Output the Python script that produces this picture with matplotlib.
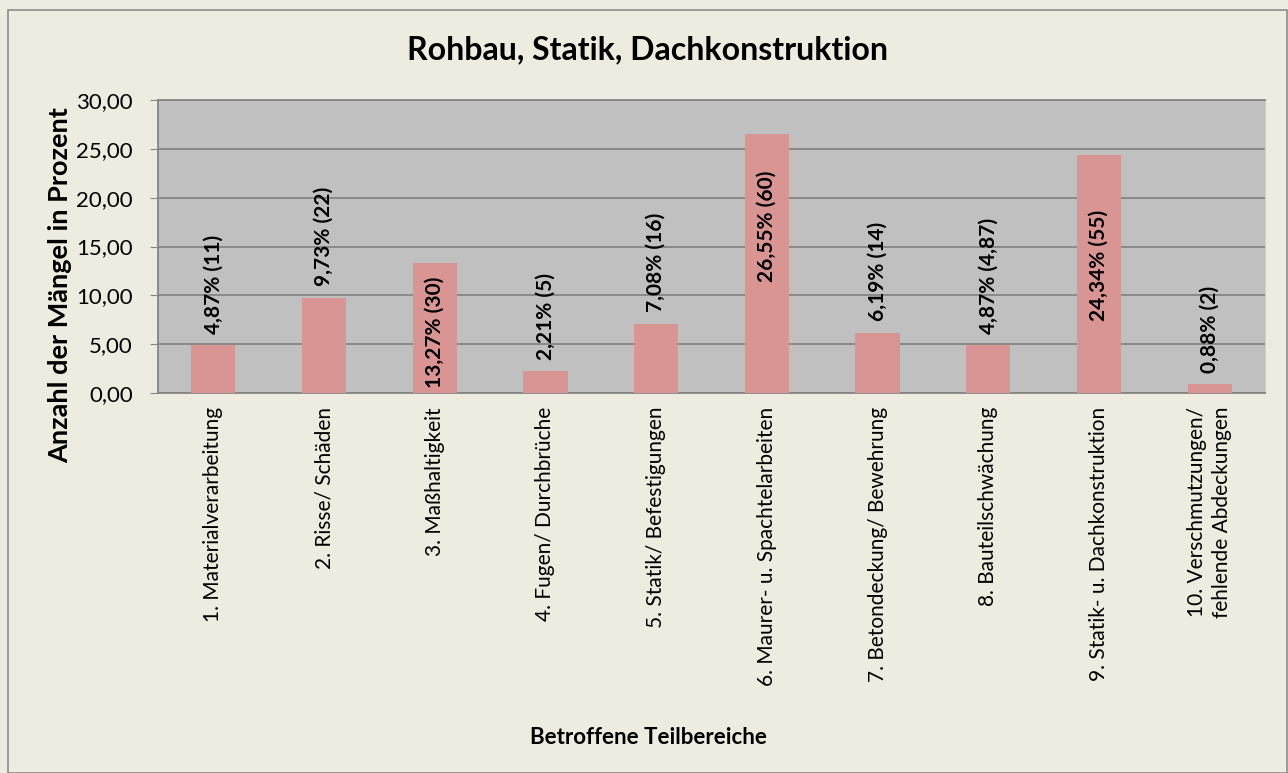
import matplotlib
matplotlib.use("Agg")
import matplotlib.pyplot as plt
from matplotlib.patches import Rectangle

plt.rcParams["font.family"] = ["Lato", "DejaVu Sans"]

TITLE = "Rohbau, Statik, Dachkonstruktion"
Y_LABEL = "Anzahl der Mängel in Prozent"
X_LABEL = "Betroffene Teilbereiche"

categories = [
    "1. Materialverarbeitung",
    "2. Risse/ Schäden",
    "3. Maßhaltigkeit",
    "4. Fugen/ Durchbrüche",
    "5. Statik/ Befestigungen",
    "6. Maurer- u. Spachtelarbeiten",
    "7. Betondeckung/ Bewehrung",
    "8. Bauteilschwächung",
    "9. Statik- u. Dachkonstruktion",
    "10. Verschmutzungen/\nfehlende Abdeckungen",
]
values = [4.87, 9.73, 13.27, 2.21, 7.08, 26.55, 6.19, 4.87, 24.34, 0.88]
value_labels = [
    "4,87% (11)", "9,73% (22)", "13,27% (30)", "2,21% (5)", "7,08% (16)",
    "26,55% (60)", "6,19% (14)", "4,87% (4,87)", "24,34% (55)", "0,88% (2)",
]
# where the data label sits: above the bar, at the base, or inside (top edge in data units)
label_mode = ["out", "out", "base", "out", "out", 22.8, "out", "out", 18.7, "out"]
y_ticks = [0, 5, 10, 15, 20, 25, 30]

BG = "#EEECE1"
PLOT_BG = "#C0C0C0"
BAR = "#D99594"
GRID = "#858585"

fig = plt.figure(figsize=(12.88, 7.73), dpi=100, facecolor=BG)
fig.patches.append(Rectangle((8 / 1288, 0), 1 - 9 / 1288, 1 - 10 / 773, transform=fig.transFigure,
                             fill=False, edgecolor="#8C8C8C", linewidth=1.2))

ax = fig.add_axes([158 / 1288, 1 - 393 / 773, 1107 / 1288, 293 / 773])
ax.set_facecolor(PLOT_BG)

x = list(range(len(categories)))
ax.bar(x, values, width=0.4, color=BAR, zorder=3)

for xi, v, lab, mode in zip(x, values, value_labels, label_mode):
    if mode == "out":
        ax.text(xi, v + 1.2, lab, rotation=90, ha="center", va="bottom",
                fontsize=15, fontweight="bold", zorder=4)
    elif mode == "base":
        ax.text(xi, 0.5, lab, rotation=90, ha="center", va="bottom",
                fontsize=15, fontweight="bold", zorder=4)
    else:
        ax.text(xi, mode, lab, rotation=90, ha="center", va="top",
                fontsize=15, fontweight="bold", zorder=4)

ax.set_xlim(-0.5, len(categories) - 0.5)
ax.set_ylim(0, 30)
ax.set_yticks(y_ticks)
ax.set_yticklabels([f"{t:.2f}".replace(".", ",") for t in y_ticks], fontsize=16)
ax.yaxis.grid(True, color=GRID, linewidth=1.3, zorder=1)
ax.set_axisbelow(True)
ax.tick_params(axis="y", length=6, color=GRID, pad=12)

ax.set_xticks(x)
ax.set_xticklabels(categories, rotation=90, fontsize=15, va="top", ha="center",
                   multialignment="right", linespacing=1.35)
ax.tick_params(axis="x", length=0, pad=10)

for side in ["left", "bottom", "top"]:
    ax.spines[side].set_color(GRID)
    ax.spines[side].set_linewidth(1.3)
ax.spines["right"].set_color("#D0D0D0")

fig.text(60 / 1288, 1 - 285 / 773, Y_LABEL, ha="center", va="center", rotation=90,
         fontsize=19.5, fontweight="bold")
fig.text(648 / 1288, 1 - 738 / 773, X_LABEL, ha="center", va="center",
         fontsize=16, fontweight="bold")
fig.text(648 / 1288, 1 - 50 / 773, TITLE, ha="center", va="center",
         fontsize=23, fontweight="bold")

fig.savefig("out.png", dpi=100, facecolor=BG)
